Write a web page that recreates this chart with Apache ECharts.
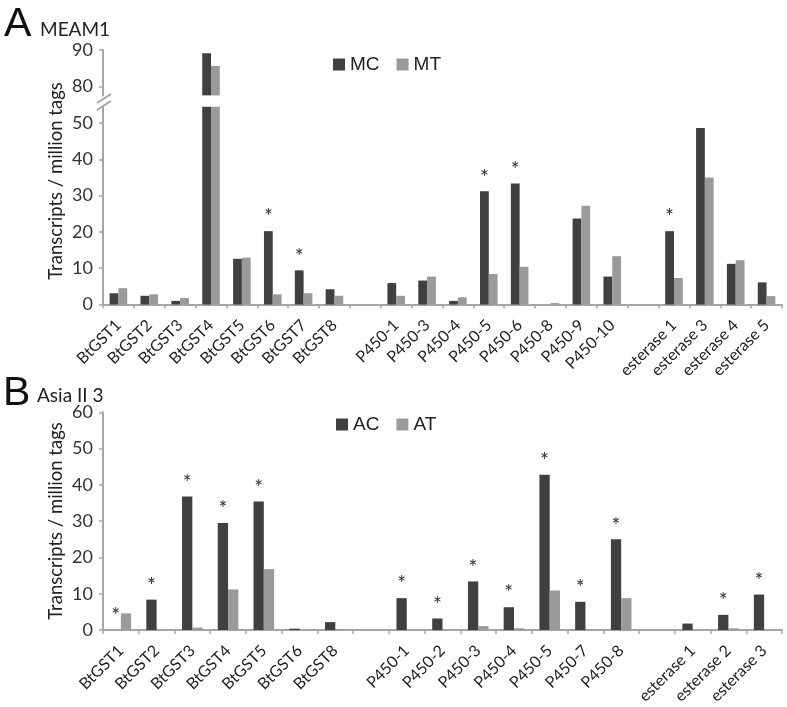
<!DOCTYPE html>
<html><head><meta charset="utf-8">
<script src="https://cdn.jsdelivr.net/npm/echarts@6/dist/echarts.min.js"></script>
<style>html,body{margin:0;padding:0;background:#fff}#c{width:787px;height:707px}</style>
</head><body><div id="c"></div>
<script>
// ---------- data ----------
const catsA = ['BtGST1','BtGST2','BtGST3','BtGST4','BtGST5','BtGST6','BtGST7','BtGST8','',
  'P450-1','P450-3','P450-4','P450-5','P450-6','P450-8','P450-9','P450-10','',
  'esterase 1','esterase 3','esterase 4','esterase 5'];
const mcVals = [3.1,2.4,1.0,89.1,12.6,20.2,9.4,4.2,null,5.9,6.6,1.0,31.2,33.3,0,23.7,7.7,null,20.2,48.6,11.2,6.1];
const mtVals = [4.5,2.8,1.8,85.6,12.9,2.8,3.1,2.4,null,2.4,7.7,2.0,8.4,10.4,0.4,27.2,13.3,null,7.3,35.0,12.2,2.3];
const sigA   = [0,0,0,0,0,1,1,0,0,0,0,0,1,1,0,0,0,0,1,0,0,0];

const catsB = ['BtGST1','BtGST2','BtGST3','BtGST4','BtGST5','BtGST6','BtGST8','',
  'P450-1','P450-2','P450-3','P450-4','P450-5','P450-7','P450-8','',
  'esterase 1','esterase 2','esterase 3'];
const acVals = [0,8.4,36.8,29.5,35.4,0.4,2.2,null,8.8,3.2,13.4,6.3,42.8,7.8,25.0,null,1.8,4.2,9.8];
const atVals = [4.6,0,0.7,11.2,16.8,0,0.2,null,0,0.1,1.1,0.5,10.9,0.1,8.8,null,0,0.5,0];
const sigB   = [1,1,1,1,1,0,0,0,1,1,1,1,1,1,1,0,0,1,1];

const yTicksALow = [0,10,20,30,40,50];
const yTicksAHigh = [80,90];
const yTicksB = [0,10,20,30,40,50,60];

// ---------- style / layout ----------
const DARK = '#404040', LIGHT = '#9a9a9c', AXIS = '#a6a6a6', TXT = '#222';
const L = 103, R = 5;
const S = 3.63; // px per unit
const upTop = 50, upMin = 77.5, upMax = 90;
const loBottom = 304.5, loMax = 54.5;
const bTop = 412.3, bMax = 60;
const gridUp = {left:L, right:R, top:upTop, height:(upMax-upMin)*S};
const gridLo = {left:L, right:R, top:loBottom-loMax*S, height:loMax*S};
const gridB  = {left:L, right:R, top:bTop, height:bMax*S};
const LABEL_FONT = 'Lato, "Open Sans", sans-serif';

function xAxisCfg(cats, gi, show) {
  return {type:'category', data:cats, gridIndex:gi, boundaryGap:true,
    show: show,
    axisLine:{show:true, lineStyle:{color:AXIS, width:2}},
    axisTick:{show:true, length:4, inside:false, interval:0, lineStyle:{color:AXIS, width:1.5}},
    axisLabel:{interval:0, rotate:45, margin:18, fontSize:16, color:TXT, fontFamily:LABEL_FONT},
    splitLine:{show:false}};
}
function yAxisCfg(gi, min, max, ticks) {
  return {type:'value', gridIndex:gi, min:min, max:max,
    axisLine:{show:true, lineStyle:{color:AXIS, width:2}},
    axisTick:{show:true, length:4, customValues:ticks, lineStyle:{color:AXIS, width:1.5}},
    axisLabel:{customValues:ticks, fontSize:18, color:'#333', margin:10, fontFamily:LABEL_FONT},
    splitLine:{show:false}};
}
function starLabel(sig) {
  return {show:true, position:'top', distance:3, fontSize:21, color:'#333', fontFamily:LABEL_FONT,
    formatter: p => sig[p.dataIndex] ? '*' : ''};
}

const brkX = L, brkY = (gridUp.top + gridUp.height + gridLo.top) / 2;

const option = {
  backgroundColor:'#fff',
  animation:false,
  title:[
    {text:'A', left:4, top:4, padding:0, textStyle:{fontSize:41, fontWeight:'normal', color:'#111', fontFamily:'"Liberation Sans", Arial'}},
    {text:'MEAM1', left:40, top:20, padding:0, textStyle:{fontSize:19, fontWeight:'normal', color:TXT, fontFamily:LABEL_FONT}},
    {text:'B', left:3, top:373, padding:0, textStyle:{fontSize:41, fontWeight:'normal', color:'#111', fontFamily:'"Liberation Sans", Arial'}},
    {text:'Asia II 3', left:37, top:386, padding:0, textStyle:{fontSize:19, fontWeight:'normal', color:TXT, fontFamily:LABEL_FONT}}
  ],
  legend:[
    {data:['MC','MT'], left:333, top:55, padding:0, itemWidth:12, itemHeight:12, itemGap:17, icon:'rect',
      textStyle:{fontSize:19, color:TXT, fontFamily:'"Liberation Sans", Arial'}},
    {data:['AC','AT'], left:336, top:415, padding:0, itemWidth:12, itemHeight:12, itemGap:17, icon:'rect',
      textStyle:{fontSize:19, color:TXT, fontFamily:'"Liberation Sans", Arial'}}
  ],
  grid:[
    Object.assign({containLabel:false, outerBoundsMode:'none'}, gridUp),
    Object.assign({containLabel:false, outerBoundsMode:'none'}, gridLo),
    Object.assign({containLabel:false, outerBoundsMode:'none'}, gridB)
  ],
  xAxis:[
    xAxisCfg(catsA, 0, false),
    xAxisCfg(catsA, 1, true),
    xAxisCfg(catsB, 2, true)
  ],
  yAxis:[
    yAxisCfg(0, upMin, upMax, yTicksAHigh),
    yAxisCfg(1, 0, loMax, yTicksALow),
    yAxisCfg(2, 0, bMax, yTicksB)
  ],
  series:[
    {name:'MC', type:'bar', xAxisIndex:0, yAxisIndex:0, data:mcVals, barWidth:8.8, barGap:'0%', itemStyle:{color:DARK}, clip:true},
    {name:'MT', type:'bar', xAxisIndex:0, yAxisIndex:0, data:mtVals, barWidth:8.8, barGap:'0%', itemStyle:{color:LIGHT}, clip:true},
    {name:'MC', type:'bar', xAxisIndex:1, yAxisIndex:1, data:mcVals, barWidth:8.8, barGap:'0%', itemStyle:{color:DARK}, clip:true, label:starLabel(sigA)},
    {name:'MT', type:'bar', xAxisIndex:1, yAxisIndex:1, data:mtVals, barWidth:8.8, barGap:'0%', itemStyle:{color:LIGHT}, clip:true},
    {name:'AC', type:'bar', xAxisIndex:2, yAxisIndex:2, data:acVals, barWidth:10.3, barGap:'0%', itemStyle:{color:DARK}, label:starLabel(sigB)},
    {name:'AT', type:'bar', xAxisIndex:2, yAxisIndex:2, data:atVals, barWidth:10.3, barGap:'0%', itemStyle:{color:LIGHT}}
  ],
  graphic:[
    {type:'text', x:56, y:181, rotation:Math.PI/2,
      style:{text:'Transcripts / million tags', fontSize:18.5, fontFamily:LABEL_FONT, fill:TXT, align:'center', verticalAlign:'middle'}},
    {type:'text', x:56, y:521, rotation:Math.PI/2,
      style:{text:'Transcripts / million tags', fontSize:18.5, fontFamily:LABEL_FONT, fill:TXT, align:'center', verticalAlign:'middle'}},
    {type:'line', shape:{x1:brkX-6, y1:brkY+2, x2:brkX+8, y2:brkY-7}, style:{stroke:AXIS, lineWidth:2}},
    {type:'line', shape:{x1:brkX-6, y1:brkY+9, x2:brkX+8, y2:brkY}, style:{stroke:AXIS, lineWidth:2}}
  ]
};
const chart = echarts.init(document.getElementById('c'), null, {renderer:'canvas'});
chart.setOption(option);
</script>
</body></html>
